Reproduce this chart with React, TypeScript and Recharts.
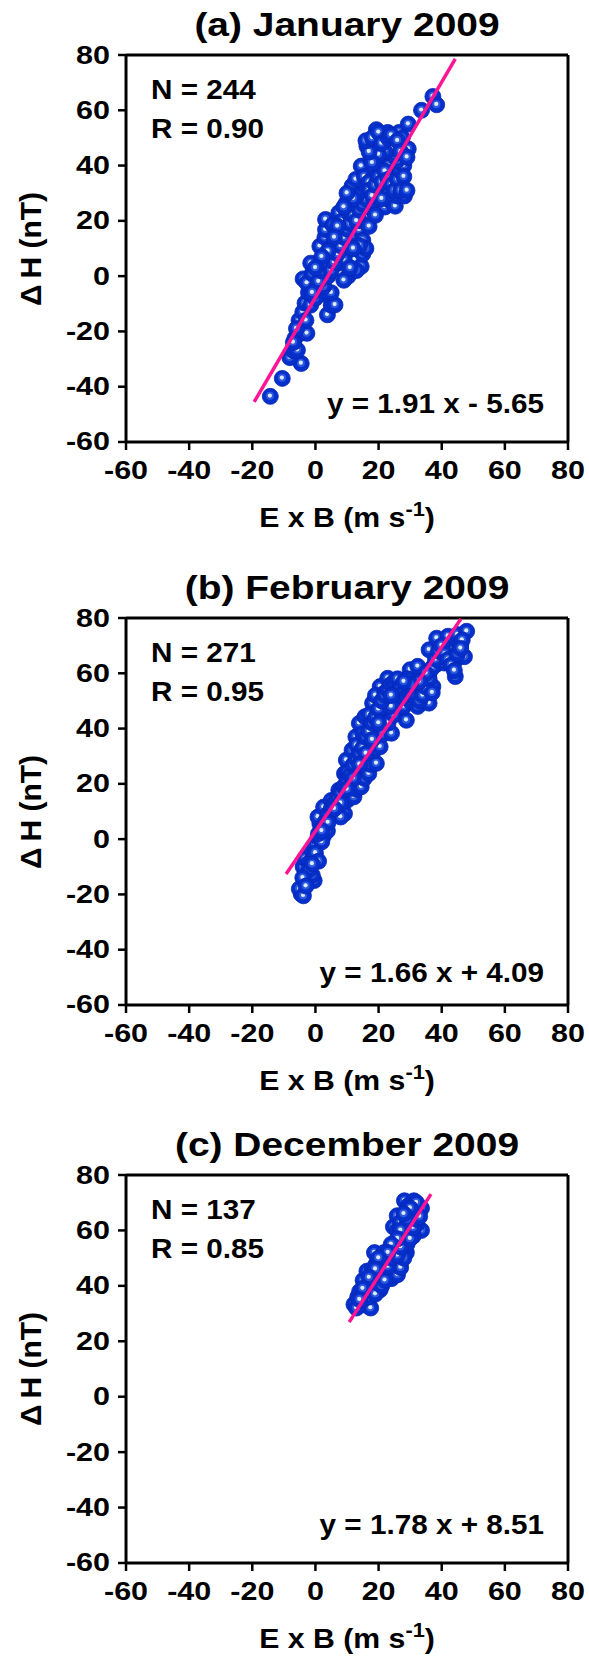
import React from 'react';
import { ScatterChart, Scatter, XAxis, YAxis } from 'recharts';

const FONT = '"Liberation Sans", Arial, Helvetica, sans-serif';

// ---------- tick values ----------
const xMajorTicks = [-60, -40, -20, 0, 20, 40, 60, 80];
const xMinorTicks = [-50, -30, -10, 10, 30, 50, 70];
const yMajorTicks = [-60, -40, -20, 0, 20, 40, 60, 80];
const yMinorTicks = [-50, -30, -10, 10, 30, 50, 70];

// ---------- panel texts ----------
const panelTitles = ['(a) January 2009', '(b) February 2009', '(c) December 2009'];
const panelN = ['244', '271', '137'];
const panelR = ['0.90', '0.95', '0.85'];
const panelEq = ['y = 1.91 x - 5.65', 'y = 1.66 x + 4.09', 'y = 1.78 x + 8.51'];

// ---------- data: [E x B (m/s), Delta H (nT)] ----------
const janPoints: [number, number][] = [
  [-14.3, -43.5], [-10.5, -37], [-4.5, -31.6], [-8.1, -29.5], [-7, -27], [-5.7, -26.8], [-6.5, -22.5],
  [-4.2, -20.5], [-2.7, -20.7], [-5.2, -16], [-4, -13], [-3.3, -9.8], [-1.5, -10.5], [-2.2, -6],
  [-3.9, -1], [-2.7, -2.5], [-1.5, 4.7], [-1, 1], [0.5, -4], [2, -6.5], [3.8, -14], [5, -10.5],
  [6.2, -10.4], [5, -6], [2.6, -3.8], [4, 0], [4.8, 3], [7.4, 4.7], [8.6, 8.4], [6.5, 9], [1.4, 10.8],
  [3, 14], [3.2, 16.8], [3.2, 20.5], [5.5, 18.5], [7.4, 22.9], [8.5, 20], [9.8, 26.5], [11.6, 32.6],
  [10, 12], [11, 10.8], [12.5, 6], [14.5, 3.5], [10.4, 0], [9, -1.5], [13, 2], [12, 15], [13.9, 16.8],
  [15, 13], [16.3, 21.7], [14, 20], [18.1, 24], [17, 27], [15, 30], [14.5, 39.8], [12.8, 35],
  [15.5, 36], [16.3, 47], [17.5, 42.3], [19.3, 47], [19.3, 53], [20.5, 32.6], [21.7, 37.4], [20, 29],
  [22.9, 30], [22, 25], [24, 27], [25.3, 25.3], [26, 29], [28.2, 29], [27, 33], [24.1, 43.5], [25, 38],
  [23, 40], [22.9, 52], [21, 50], [26.5, 52], [25, 48], [28, 46], [29.4, 46], [29.4, 55], [27.5, 50],
  [33.6, 60], [37.2, 65], [38.4, 62], [18, 35], [19.5, 40], [23, 47], [21, 44], [17, 34], [13, 25],
  [11, 22], [8, 15], [6, 12], [9, 6],
  [0, -8], [1, -2], [2, 2], [3, 5], [5, 2], [6, 5], [7, 8], [8, 11], [9, 14], [10, 17], [11, 19],
  [12, 22], [13, 20], [14, 24], [15, 26], [16, 28], [17, 31], [18, 29], [19, 33], [20, 36], [21, 34],
  [22, 38], [23, 35], [24, 33], [25, 31], [26, 35], [27, 38], [28, 40], [26, 42], [25, 44], [24, 46],
  [22, 45], [20, 44], [18, 41], [17, 45], [16, 49], [18, 50], [20, 52], [21, 48], [23, 50], [24, 51],
  [26, 49], [27, 45], [29, 43], [28, 36], [27, 31], [29, 31], [13, 29], [12, 28], [10, 30], [9, 25],
  [7, 18], [6, 14], [4, 9], [2, 7], [0, 3], [-1, -6], [-3, -16], [-6, -19], [-7, -24], [15, 8],
  [16, 10], [14, 11], [12, 10], [11, 3], [17, 18], [19, 22], [21, 28],
];

const febPoints: [number, number][] = [
  [-4.5, -19.9], [-5.1, -18], [-3.8, -20.5], [-0.4, -15], [-1, -13], [-3.9, -10], [-3.3, -7],
  [-2, -8.5], [-1, -4], [0, -2], [0.8, 0.7], [1.4, 5.6], [2.5, 1], [3.8, 3], [2, -1], [0.8, 8],
  [2.6, 11.6], [3.5, 7], [5, 14], [6.8, 10.4], [5.5, 9], [7.5, 12], [9.2, 9.2], [8, 8], [10, 14],
  [7.4, 17.7], [9.2, 23.7], [9.8, 28.6], [11, 20], [12.2, 15.3], [13, 18], [11.6, 32.2], [12.8, 37],
  [13.9, 41.9], [13, 34], [12, 25], [14.5, 18.9], [15.5, 22], [16.9, 23.7], [15.7, 44.3], [15, 38],
  [16.5, 30], [17.5, 27], [18.1, 49.2], [17, 45], [19.3, 27.4], [18.5, 32], [20.5, 33.4], [19.5, 40],
  [20.5, 55.2], [19, 52], [21, 46], [22.9, 58.2], [22, 53], [22.9, 49.2], [21.5, 38], [24.1, 38.3],
  [23, 42], [25, 45], [26.5, 56.4], [26.5, 51.6], [25, 55], [28.8, 43], [28, 48], [27, 52],
  [30, 61.3], [30, 50], [31, 55], [32.4, 62.5], [32.4, 48], [33.6, 54], [34, 57], [35, 50],
  [36, 49.2], [36, 60], [37.2, 55.2], [36, 68.5], [38, 63], [38.4, 72.7], [39, 66], [40.8, 63.7],
  [41, 70], [42, 73.4], [43, 68], [44.3, 58.8], [44, 64], [45, 74], [46, 70], [47.2, 66],
  [47.9, 75.2], [46.5, 72], [29, 58], [24, 48], [16, 35], [10, 24],
  [1, 2], [2, 4], [3, 6], [4, 9], [5, 11], [6, 13], [7, 15], [8, 17], [9, 19], [10, 21], [11, 23],
  [12, 27], [13, 29], [14, 31], [15, 33], [16, 37], [17, 39], [18, 42], [19, 44], [20, 47], [21, 50],
  [22, 52], [23, 54], [24, 56], [25, 57], [26, 58], [27, 55], [28, 53], [29, 52], [30, 53], [31, 52],
  [32, 51], [33, 50], [34, 52], [35, 55], [36, 58], [37, 62], [38, 65], [39, 68], [40, 70], [41, 67],
  [42, 65], [43, 63], [44, 61], [45, 67], [46, 69], [37, 53], [35, 60], [33, 57], [30, 56], [28, 57],
  [24, 52], [20, 42], [18, 36], [16, 31], [14, 27], [12, 22], [10, 18], [8, 13], [6, 11], [4, 6],
  [2, 3], [0, -5], [-2, -11], [-4, -14], [-3, -17], [1, -8], [-1, -9],
];

const decPoints: [number, number][] = [
  [12.2, 33.3], [13.4, 36], [14.5, 34], [16, 33], [17.5, 32], [15.1, 42], [16.3, 45.3], [14, 38],
  [17, 40], [18.7, 52], [21.7, 52], [19.3, 48], [18, 46], [21.7, 44], [20.5, 38.6], [19, 42],
  [22, 48], [24.1, 42.6], [23, 45], [25.3, 48], [26, 44], [27, 46.6], [26.5, 52], [28.8, 52],
  [28, 50], [26.5, 56], [27.6, 57.3], [29, 55], [24.7, 61.3], [25.9, 65.3], [26, 60], [28.2, 70.7],
  [29, 67], [31.2, 70.7], [33.6, 68], [32, 66], [30.6, 64], [33.6, 60], [32, 62], [31, 58],
  [30, 60], [28.5, 62], [27, 63], [29.5, 69], [25, 54],
  [13, 32], [15, 35], [16, 37], [17, 36], [18, 38], [19, 37], [20, 41], [21, 40], [22, 42], [23, 47],
  [24, 50], [25, 52], [26, 51], [27, 54], [28, 58], [29, 58], [30, 57], [31, 61], [32, 64], [33, 65],
  [32, 70], [30, 68], [29, 64], [28, 66], [27, 60], [26, 57], [24, 55], [23, 52], [20, 50], [19, 46],
  [17, 43], [15, 39], [14, 35],
];

// regression line end points
const janFit: [number, number][] = [[-19.4, -45.5], [44.3, 78.6]];
const febFit: [number, number][] = [[-9.3, -12.6], [46.1, 79.7]];
const decFit: [number, number][] = [[10.7, 26.9], [36.6, 73.1]];

// ---------- layout ----------
const PLOT_LEFT = 126;
const PLOT_RIGHT = 568;
const W = 589;
const EPS = 0.01;
const panels = [
  { top: 55, bottom: 442, pts: janPoints, fit: janFit, eqOff: 38 },
  { top: 618, bottom: 1005, pts: febPoints, fit: febFit, eqOff: 32 },
  { top: 1175, bottom: 1563, pts: decPoints, fit: decFit, eqOff: 38 },
];

const toObj = (arr: [number, number][]) => arr.map(([x, y]) => ({ x, y }));

const Sphere = (props: any) => {
  const { cx, cy } = props;
  if (cx == null || cy == null) return <g />;
  return (
    <g>
      <circle cx={cx} cy={cy} r={8} fill="#0630cc" stroke="#0526b4" strokeWidth={0.8} />
      <circle cx={cx - 0.3} cy={cy - 0.6} r={4} fill="#4a74e6" opacity={0.6} />
      <circle cx={cx - 0.4} cy={cy - 0.8} r={2.1} fill="#dcecff" />
    </g>
  );
};

const NoShape = () => <g />;

const XTickLabel = (props: any) => {
  const { x, y, payload } = props;
  return (
    <text
      transform={`translate(${x},${y}) scale(1.22,1)`}
      textAnchor="middle"
      dominantBaseline="central"
      fontFamily={FONT}
      fontWeight={700}
      fontSize={25}
      fill="#000"
    >
      {payload.value}
    </text>
  );
};

const YTickLabel = (props: any) => {
  const { x, y, payload } = props;
  return (
    <text
      transform={`translate(${x},${y}) scale(1.22,1)`}
      textAnchor="end"
      dominantBaseline="central"
      fontFamily={FONT}
      fontWeight={700}
      fontSize={25}
      fill="#000"
    >
      {payload.value}
    </text>
  );
};

const Label = ({ x, y, anchor = 'middle', size, sx = 1, rot = 0, children }: any) => {
  const tx = anchor === 'middle' ? '-50%' : anchor === 'end' ? '-100%' : '0';
  const origin = anchor === 'middle' ? 'center center' : anchor === 'end' ? 'right center' : 'left center';
  return (
    <div
      style={{
        position: 'absolute',
        left: x,
        top: y,
        transform: `translate(${tx},-50%)${rot ? ` rotate(${rot}deg)` : ''} scaleX(${sx})`,
        transformOrigin: origin,
        fontFamily: FONT,
        fontWeight: 700,
        fontSize: size,
        lineHeight: 1,
        whiteSpace: 'nowrap',
        color: '#000',
      }}
    >
      {children}
    </div>
  );
};

const AXIS = { stroke: '#000', strokeWidth: 3 };
const TICK = { stroke: '#000', strokeWidth: 2.5 };
const DOM: [number, number] = [-60, 80];

function Panel({ top, bottom, pts, fit }: any) {
  const mt = 40;
  const mb = 50;
  const plotH = bottom - top;
  const H = plotH + mt + mb;
  return (
    <div style={{ position: 'absolute', left: 0, top: top - mt, width: W, height: H }}>
      <ScatterChart width={W} height={H} margin={{ top: mt, right: W - PLOT_RIGHT, bottom: mb, left: PLOT_LEFT }}>
        <XAxis xAxisId="xm" type="number" dataKey="x" domain={DOM} allowDataOverflow ticks={xMinorTicks}
          tick={false} tickSize={5} axisLine={false} tickLine={TICK} height={EPS} />
        <XAxis xAxisId="x" type="number" dataKey="x" domain={DOM} allowDataOverflow ticks={xMajorTicks}
          tick={(p: any) => <XTickLabel {...p} />} tickSize={8} tickMargin={21} axisLine={AXIS} tickLine={TICK}
          height={EPS} interval={0} />
        <XAxis xAxisId="xt" orientation="top" mirror type="number" dataKey="x" domain={DOM} allowDataOverflow
          ticks={xMajorTicks} tick={false} tickSize={8} axisLine={AXIS} tickLine={TICK} height={EPS} />
        <XAxis xAxisId="xtm" orientation="top" mirror type="number" dataKey="x" domain={DOM} allowDataOverflow
          ticks={xMinorTicks} tick={false} tickSize={5} axisLine={false} tickLine={TICK} height={EPS} />
        <YAxis yAxisId="ym" type="number" dataKey="y" domain={DOM} allowDataOverflow ticks={yMinorTicks}
          tick={false} tickSize={5} axisLine={false} tickLine={TICK} width={EPS} />
        <YAxis yAxisId="y" type="number" dataKey="y" domain={DOM} allowDataOverflow ticks={yMajorTicks}
          tick={(p: any) => <YTickLabel {...p} />} tickSize={8} tickMargin={8} axisLine={AXIS} tickLine={TICK}
          width={EPS} interval={0} />
        <YAxis yAxisId="yr" orientation="right" mirror type="number" dataKey="y" domain={DOM} allowDataOverflow
          ticks={yMajorTicks} tick={false} tickSize={8} axisLine={AXIS} tickLine={TICK} width={EPS} />
        <YAxis yAxisId="yrm" orientation="right" mirror type="number" dataKey="y" domain={DOM} allowDataOverflow
          ticks={yMinorTicks} tick={false} tickSize={5} axisLine={false} tickLine={TICK} width={EPS} />
        <Scatter xAxisId="x" yAxisId="y" data={toObj(pts)} shape={Sphere} isAnimationActive={false} />
        <Scatter xAxisId="x" yAxisId="y" data={toObj(fit)} shape={NoShape}
          line={{ stroke: '#ff1493', strokeWidth: 3.5 }} isAnimationActive={false} />
      </ScatterChart>
    </div>
  );
}

export default function App() {
  const cx = (PLOT_LEFT + PLOT_RIGHT) / 2;
  return (
    <div style={{ position: 'absolute', left: 0, top: 0, width: W, height: 1656, background: '#fff', overflow: 'hidden' }}>
      {panels.map((p, i) => (
        <Panel key={i} {...p} />
      ))}
      {panels.map((p, i) => (
        <React.Fragment key={'t' + i}>
          <Label x={cx} y={p.top - 31} size={33} sx={1.18}>{panelTitles[i]}</Label>
          <Label x={151} y={p.top + 35} anchor="start" size={28} sx={1.06}>{'N = ' + panelN[i]}</Label>
          <Label x={151} y={p.top + 74} anchor="start" size={28} sx={1.06}>{'R = ' + panelR[i]}</Label>
          <Label x={544} y={p.bottom - p.eqOff} anchor="end" size={28} sx={1.06}>{panelEq[i]}</Label>
          <Label x={31} y={(p.top + p.bottom) / 2} size={30} rot={-90}>{'\u0394\u2009H (nT)'}</Label>
          <Label x={cx} y={p.bottom + 76} size={28} sx={1.08}>
            E x B (m s<span style={{ fontSize: '0.72em', position: 'relative', top: '-0.55em' }}>-1</span>)
          </Label>
        </React.Fragment>
      ))}
    </div>
  );
}
